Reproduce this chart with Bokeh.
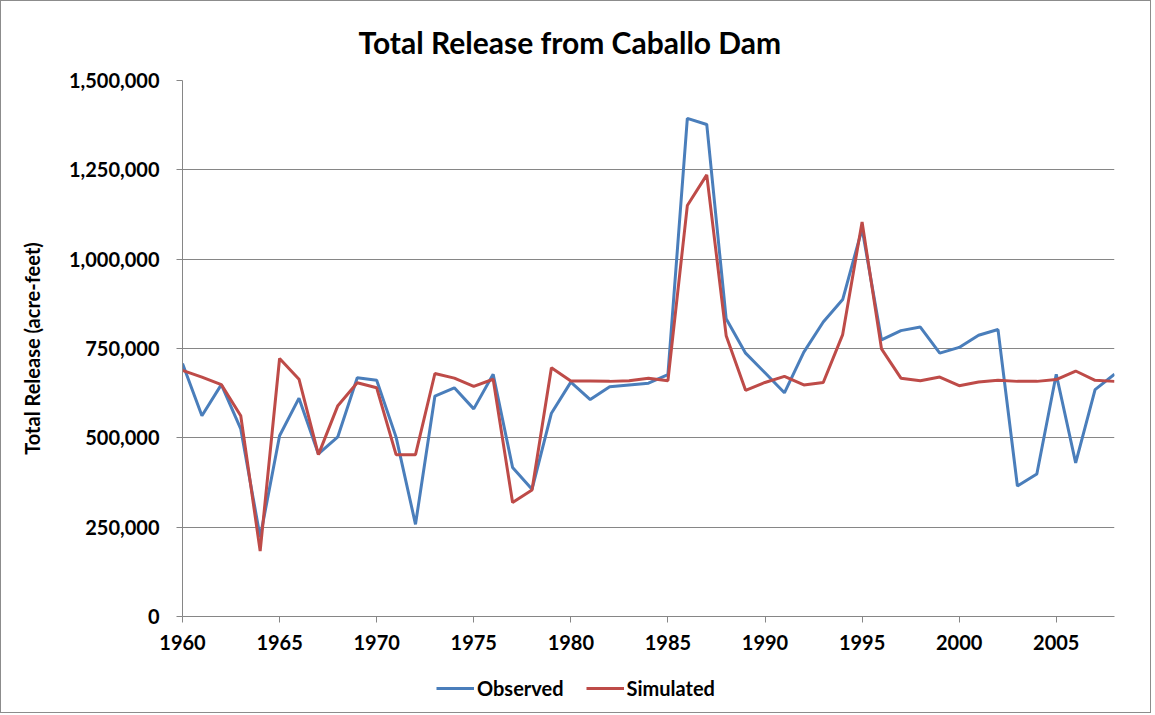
from bokeh.plotting import figure
from bokeh.layouts import column
from bokeh.models import Range1d, FixedTicker, NumeralTickFormatter, Legend, LegendItem, Title
from bokeh.embed import file_html
from bokeh.resources import INLINE

years = [1960, 1961, 1962, 1963, 1964, 1965, 1966, 1967, 1968, 1969,
         1970, 1971, 1972, 1973, 1974, 1975, 1976, 1977, 1978, 1979,
         1980, 1981, 1982, 1983, 1984, 1985, 1986, 1987, 1988, 1989,
         1990, 1991, 1992, 1993, 1994, 1995, 1996, 1997, 1998, 1999,
         2000, 2001, 2002, 2003, 2004, 2005, 2006, 2007, 2008]

observed = [708000, 562000, 649000, 525000, 222000, 506000, 611000, 455000, 503000, 668000,
            661000, 502000, 258000, 617000, 640000, 581000, 678000, 417000, 356000, 569000,
            656000, 607000, 643000, 648000, 653000, 677000, 1394000, 1377000, 833000, 737000,
            682000, 626000, 740000, 824000, 887000, 1085000, 774000, 800000, 810000, 737000,
            753000, 787000, 803000, 365000, 399000, 678000, 430000, 635000, 678000]

simulated = [689000, 670000, 649000, 562000, 183000, 722000, 664000, 453000, 590000, 654000,
             640000, 453000, 453000, 680000, 667000, 644000, 664000, 319000, 354000, 696000,
             659000, 659000, 658000, 660000, 667000, 660000, 1150000, 1236000, 786000, 633000,
             655000, 672000, 648000, 655000, 789000, 1104000, 749000, 667000, 660000, 670000,
             646000, 656000, 661000, 658000, 658000, 663000, 687000, 661000, 658000]

x_ticks = [1960, 1965, 1970, 1975, 1980, 1985, 1990, 1995, 2000, 2005]
y_ticks = [0, 250000, 500000, 750000, 1000000, 1250000, 1500000]

FONT = "Lato"
GRID = "#868686"
BLUE = "#4a7ebb"
RED = "#be4b48"

p = figure(frame_width=932, frame_height=536, output_backend="svg", toolbar_location=None,
           x_range=Range1d(1960, 2008), y_range=Range1d(0, 1500000),
           min_border_left=181, min_border_right=36, min_border_top=79, min_border_bottom=44)
p.outline_line_color = None

title = Title(text="Total Release from Caballo Dam", align="left", offset=176,
              text_font=FONT, text_font_size="30px", text_font_style="bold",
              text_color="black", standoff=41)
p.add_layout(title, "above")

p.line(years, observed, line_color=BLUE, line_width=3)
p.line(years, simulated, line_color=RED, line_width=3)

p.xgrid.visible = False
p.ygrid.grid_line_color = GRID
p.ygrid.ticker = FixedTicker(ticks=y_ticks)

for ax in (p.xaxis[0], p.yaxis[0]):
    ax.axis_line_color = GRID
    ax.major_tick_line_color = GRID
    ax.major_tick_in = 0
    ax.major_tick_out = 6
    ax.minor_tick_line_color = None
    ax.major_label_text_font = FONT
    ax.major_label_text_font_size = "20px"
    ax.major_label_text_font_style = "bold"
    ax.major_label_text_color = "black"

p.xaxis.ticker = FixedTicker(ticks=x_ticks)
p.xaxis.major_label_standoff = 12
p.yaxis.ticker = FixedTicker(ticks=y_ticks)
p.yaxis.formatter = NumeralTickFormatter(format="0,0")
p.yaxis.major_label_standoff = 17
p.yaxis.axis_label = "Total Release (acre-feet)"
p.yaxis.axis_label_text_font = FONT
p.yaxis.axis_label_text_font_size = "20px"
p.yaxis.axis_label_text_font_style = "bold"
p.yaxis.axis_label_text_color = "black"
p.yaxis.axis_label_standoff = 22

# Legend strip below the chart (its series lines lie outside its own view)
q = figure(width=1149, height=52, output_backend="svg", toolbar_location=None,
           x_range=Range1d(0, 1), y_range=Range1d(0, 1),
           x_axis_location=None, y_axis_location=None,
           min_border=0)
q.outline_line_color = None
q.grid.visible = False
q_obs = q.line(years, observed, line_color=BLUE, line_width=3)
q_sim = q.line(years, simulated, line_color=RED, line_width=3)

legend = Legend(items=[LegendItem(label="Observed", renderers=[q_obs]),
                       LegendItem(label="Simulated", renderers=[q_sim])],
                orientation="horizontal", location=(254, 12),
                label_text_font=FONT, label_text_font_size="20px",
                label_text_font_style="bold", label_text_color="black",
                glyph_width=38, label_standoff=3, spacing=22,
                border_line_color=None, background_fill_alpha=0,
                margin=0, padding=4)
q.add_layout(legend, "center")

layout = column(p, q, spacing=0, styles={"border": "1px solid #8c8c8c"})

open("out.html", "w").write(file_html(layout, INLINE))
